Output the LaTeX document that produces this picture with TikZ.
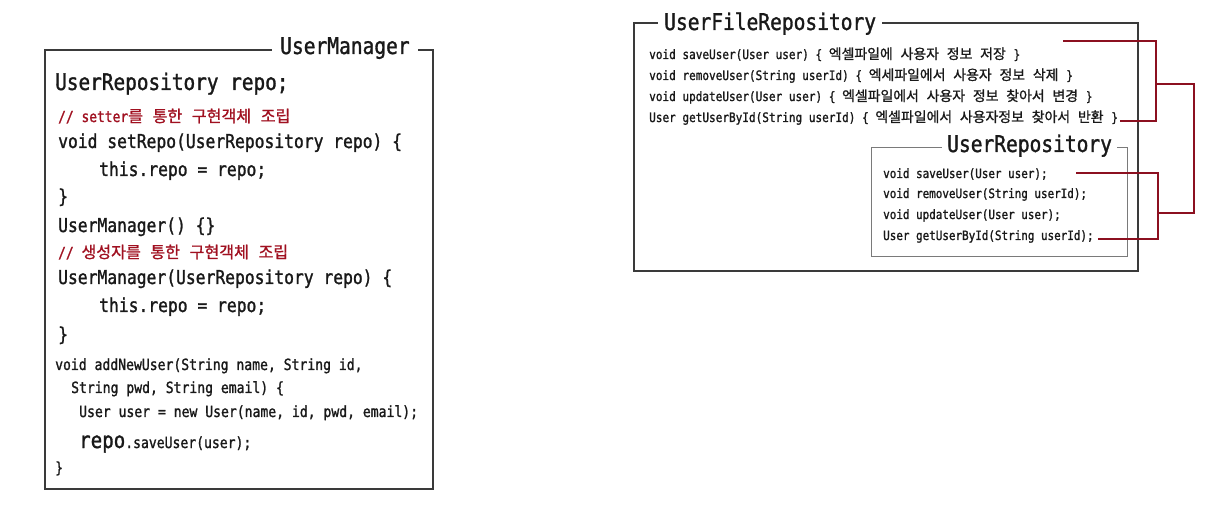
\documentclass[tikz,border=0pt]{standalone}
\usepackage{fontspec}
\newfontfamily\code[FakeStretch=0.85,FakeBold=1.3]{DejaVu Sans Mono}
\newfontfamily\kr[Scale=1.07,FakeBold=1.1]{Noto Sans CJK KR}
\newfontfamily\krc[Scale=1.06,FakeBold=1.1]{Noto Sans CJK KR}
\newcommand\K[1]{{\kr #1}}
\newcommand\KC[1]{{\krc #1}}
\newcommand\ks{\hspace{7.8pt}}
\newcommand\kc{\hspace{9.6pt}}
\newcommand\fs[1]{\fontsize{#1}{#1}\selectfont}
\definecolor{cmtred}{HTML}{A01020}
\definecolor{linkred}{HTML}{8C1020}
\definecolor{boxgray}{HTML}{3A3A3A}
\definecolor{innergray}{HTML}{7A7A7A}
\tikzset{
  txt/.style={anchor=base west, inner sep=0pt, text=black!90},
  big/.style={txt, font=\code\fs{22.8}},
  mid/.style={txt, font=\code\fs{19.2}},
  sml/.style={txt, font=\code\fs{15.4}},
  cmt/.style={txt, font=\code\fs{15.2}, text=cmtred},
  tny/.style={txt, font=\code\fs{13.0}},
  tnyi/.style={txt, font=\code\fs{12.85}},
  boxtitle/.style={anchor=base west, fill=white, inner ysep=2pt, font=\code\fs{23}, text=black!90},
  outerbox/.style={draw=boxgray, line width=1.3pt},
  innerbox/.style={draw=innergray, line width=1pt},
  link/.style={draw=linkred, line width=2.6pt, line join=miter},
}
\begin{document}
\begin{tikzpicture}[x=1pt,y=-1pt]
\fill[white] (0,0) rectangle (1213,510);
\useasboundingbox (0,0) rectangle (1213,510);

% ---------- UserManager ----------
\draw[outerbox] (45,50) rectangle (433,489);
\node[boxtitle, inner xsep=8pt] (umtitle) at (272,54) {UserManager};

\node[big] (um1) at (55,90) {UserRepository repo;};
\node[cmt] (um2) at (58,122) {// setter\KC{를}\kc\KC{통한}\kc\KC{구현객체}\kc\KC{조립}};
\node[mid] (um3) at (58,148) {void setRepo(UserRepository repo) \{};
\node[mid] (um4) at (99,176) {this.repo = repo;};
\node[mid] (um5) at (58,203) {\}};
\node[mid] (um6) at (58,232) {UserManager() \{\}};
\node[cmt] (um7) at (58,258) {// \KC{생성자를}\kc\KC{통한}\kc\KC{구현객체}\kc\KC{조립}};
\node[mid] (um8) at (58,284) {UserManager(UserRepository repo) \{};
\node[mid] (um9) at (99,312) {this.repo = repo;};
\node[mid] (um10) at (58,341) {\}};
\node[sml] (um11) at (55,370) {void addNewUser(String name, String id,};
\node[sml] (um12) at (71,393) {String pwd, String email) \{};
\node[sml] (um13) at (79,417) {User user = new User(name, id, pwd, email);};
\node[sml] (um14) at (79,448) {{\fs{22.5}repo}.saveUser(user);};
\node[sml] (um15) at (55,473) {\}};

% ---------- UserFileRepository ----------
\draw[outerbox] (634,23) rectangle (1138,271);
\node[boxtitle, inner xsep=6pt] (uftitle) at (658,30) {UserFileRepository};
\node[tny] (uf1) at (649,59) {void saveUser(User user) \{ \K{엑셀파일에}\ks\K{사용자}\ks\K{정보}\ks\K{저장}\ks\}};
\node[tny] (uf2) at (649,80) {void removeUser(String userId) \{ \K{엑세파일에서}\ks\K{사용자}\ks\K{정보}\ks\K{삭제}\ks\}};
\node[tny] (uf3) at (649,101) {void updateUser(User user) \{ \K{엑셀파일에서}\ks\K{사용자}\ks\K{정보}\ks\K{찾아서}\ks\K{변경}\ks\}};
\node[tny] (uf4) at (649,122) {User getUserById(String userId) \{ \K{엑셀파일에서}\ks\K{사용자정보}\ks\K{찾아서}\ks\K{반환}\ks\}};

% ---------- UserRepository ----------
\draw[innerbox] (871,148) rectangle (1127,257);
\node[boxtitle, inner xsep=5.5pt] (urtitle) at (941.5,152) {UserRepository};
\node[tnyi] (ur1) at (883,178) {void saveUser(User user);};
\node[tnyi] (ur2) at (883,198) {void removeUser(String userId);};
\node[tnyi] (ur3) at (883,219) {void updateUser(User user);};
\node[tnyi] (ur4) at (883,240) {User getUserById(String userId);};

% ---------- connectors ----------
\coordinate (fa) at (1063,41);
\coordinate (fb) at (1120,121);
\coordinate (fj) at (1156,84);
\coordinate (fk) at (1194,84);
\coordinate (ra) at (1076,173);
\coordinate (rb) at (1098,239);
\coordinate (rj) at (1158,213);

\draw[link] (fa) -| (fj) |- (fb);
\draw[link] (fj) -- (fk) |- (rj);
\draw[link] (ra) -| (rj) |- (rb);
\end{tikzpicture}
\end{document}
